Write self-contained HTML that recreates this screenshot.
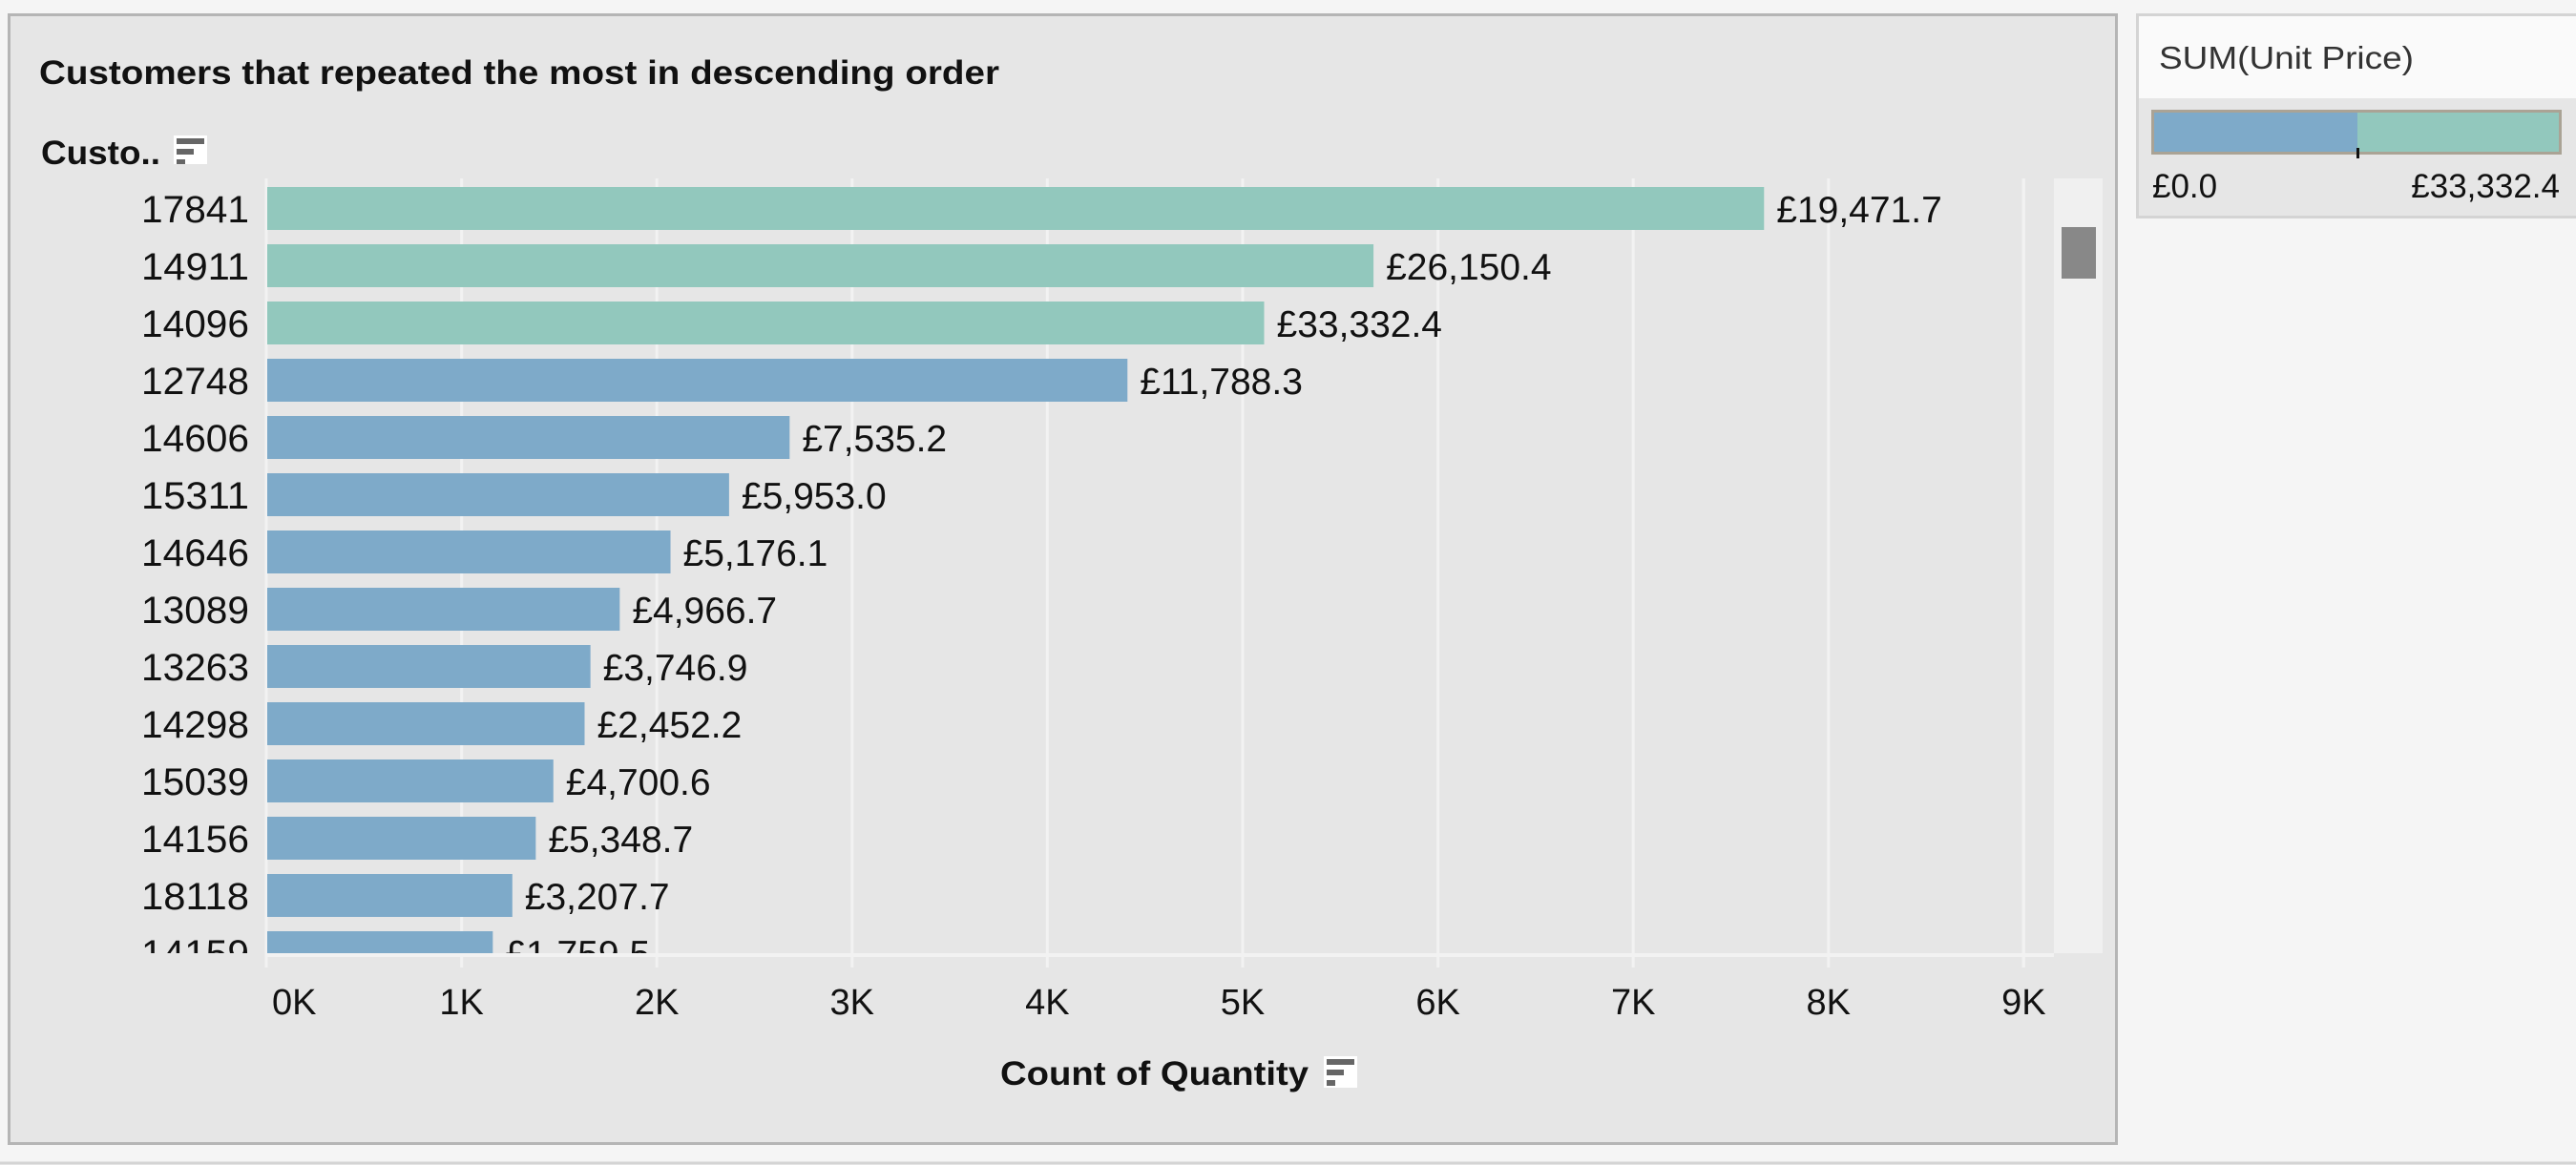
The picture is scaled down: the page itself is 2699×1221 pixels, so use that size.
<!DOCTYPE html>
<html><head><meta charset="utf-8"><style>
html,body{margin:0;padding:0;background:#f5f5f5;width:2699px;height:1221px;overflow:hidden}
svg{display:block;font-family:"Liberation Sans",sans-serif}
</style></head><body>
<svg id="chart" width="2699" height="1221" xmlns="http://www.w3.org/2000/svg">
<rect x="0" y="0" width="2699" height="1221" fill="#f5f5f5"/>
<line x1="0" y1="1219" x2="2699" y2="1219" stroke="#d4d4d4" stroke-width="3"/>
<rect x="9.5" y="15.5" width="2208" height="1183" fill="#e6e6e6" stroke="#b5b5b5" stroke-width="3"/>
<text x="41" y="88" font-size="35" font-weight="bold" fill="#111" textLength="1006" lengthAdjust="spacingAndGlyphs">Customers that  repeated the most in descending order</text>
<text x="43" y="172" font-size="35" font-weight="bold" fill="#111" textLength="125" lengthAdjust="spacingAndGlyphs">Custo..</text>
<g>
<rect x="182" y="142" width="35" height="30" fill="#fff"/>
<rect x="185" y="145" width="29" height="6" fill="#666"/>
<rect x="185" y="156" width="18" height="6" fill="#666"/>
<rect x="185" y="167" width="9" height="5" fill="#666"/>
</g>
<defs><clipPath id="plotclip"><rect x="140" y="187" width="2012" height="812"/></clipPath></defs>
<g id="grid"></g>
<g id="bars" clip-path="url(#plotclip)"></g>
<rect x="279" y="999" width="1873" height="4" fill="#f2f2f2"/>
<g id="ticks"></g>
<text x="1048" y="1137" font-size="35" font-weight="bold" fill="#111" textLength="323" lengthAdjust="spacingAndGlyphs">Count of Quantity</text>
<g>
<rect x="1387" y="1107" width="35" height="33" fill="#fff"/>
<rect x="1390" y="1110" width="29" height="6" fill="#666"/>
<rect x="1390" y="1121" width="18" height="6" fill="#666"/>
<rect x="1390" y="1132" width="9" height="6" fill="#666"/>
</g>
<rect x="2152" y="187" width="51" height="812" fill="#f0f0f0"/>
<rect x="2160" y="238" width="36" height="54" fill="#888"/>
<g>
<rect x="2239.5" y="15.5" width="465" height="212" fill="#e6e6e6" stroke="#d4d4d4" stroke-width="3"/>
<rect x="2241" y="17" width="460" height="86" fill="#fafafa"/>
<text x="2262" y="72" font-size="33" fill="#333" textLength="267" lengthAdjust="spacingAndGlyphs">SUM(Unit Price)</text>
<rect x="2254" y="115" width="430" height="47" fill="#aaa395"/>
<rect x="2257" y="118" width="213" height="41" fill="#7eaac9"/>
<rect x="2470" y="118" width="211" height="41" fill="#92c8bd"/>
<rect x="2469" y="155" width="3" height="11" fill="#111"/>
<text x="2255" y="207" font-size="35" fill="#111">£0.0</text>
<text x="2682" y="207" font-size="35" fill="#111" text-anchor="end">£33,332.4</text>
</g>
</svg>
<script>
const customers = ["17841","14911","14096","12748","14606","15311","14646","13089","13263","14298","15039","14156","18118","14159"];
const counts = [7670,5670,5110,4410,2680,2370,2070,1810,1660,1630,1470,1380,1260,1160];
const prices = ["£19,471.7","£26,150.4","£33,332.4","£11,788.3","£7,535.2","£5,953.0","£5,176.1","£4,966.7","£3,746.9","£2,452.2","£4,700.6","£5,348.7","£3,207.7","£1,759.5"];
const priceValues = [19471.7,26150.4,33332.4,11788.3,7535.2,5953.0,5176.1,4966.7,3746.9,2452.2,4700.6,5348.7,3207.7,1759.5];
const tickValues = [0,1000,2000,3000,4000,5000,6000,7000,8000,9000];
const tickLabels = ["0K","1K","2K","3K","4K","5K","6K","7K","8K","9K"];
const NS = "http://www.w3.org/2000/svg";
const X0 = 279, PX_PER = 204.6/1000;
function xScale(v){ return X0 + v*PX_PER; }
function yCenter(i){ return 219 + i*60; }
function mk(tag, attrs, parent){ const e=document.createElementNS(NS,tag); for(const k in attrs) e.setAttribute(k,attrs[k]); parent.appendChild(e); return e; }
const grid=document.getElementById('grid'), bars=document.getElementById('bars'), ticks=document.getElementById('ticks');
tickValues.forEach((t,i)=>{
  const gx=xScale(t);
  const gl=mk('line',{x1:gx,y1:187,x2:gx,y2:1014,stroke:'#f2f2f2','stroke-width':3},grid);
  
  
  const tx = i===0 ? gx+6 : gx;
  const tl=mk('text',{x:tx,y:1063,'font-size':38,fill:'#111','text-anchor':i===0?'start':'middle'},ticks);
  tl.textContent=tickLabels[i];
  
  
});
mk('line',{x1:2120,y1:187,x2:2120,y2:1014,stroke:'#f2f2f2','stroke-width':3},grid);
const maxP = Math.max(...priceValues);
customers.forEach((c,i)=>{
  const yc=yCenter(i);
  const r=mk('rect',{x:xScale(0)+1,y:yc-23,width:xScale(counts[i])-xScale(0)-1,height:45,fill:priceValues[i]>maxP/2?'#92c8bd':'#7eaac9'},bars);
  
  
  const vl=mk('text',{x:xScale(counts[i])+13,y:yc+14,'font-size':39,fill:'#111'},bars);
  vl.textContent=prices[i];
  
  
  const rl=mk('text',{x:261,y:yc+14,'font-size':40,fill:'#111','text-anchor':'end',textLength:113,lengthAdjust:'spacingAndGlyphs'},bars);
  rl.textContent=c;
  
  
});
</script>
</body></html>
